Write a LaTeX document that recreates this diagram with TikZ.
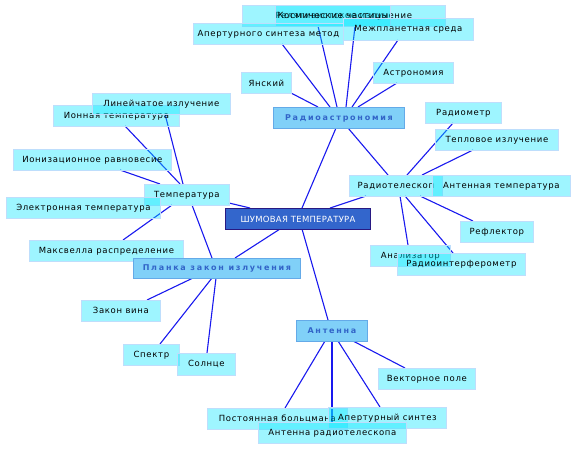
\documentclass[tikz,border=0pt]{standalone}
\usepackage{fontspec}
\setmainfont{DejaVu Sans}[LetterSpace=8]
\newfontfamily\hubfont{DejaVu Sans}[LetterSpace=22]
\newfontfamily\cenfont{DejaVu Sans}[LetterSpace=3]
\usetikzlibrary{calc,backgrounds}
\definecolor{leaffill}{RGB}{0,230,255}
\definecolor{leafdraw}{RGB}{190,222,252}
\definecolor{hubfill}{RGB}{128,208,248}
\definecolor{hubdraw}{RGB}{100,170,232}
\definecolor{hubtext}{RGB}{50,100,200}
\definecolor{cenfill}{RGB}{51,102,204}
\definecolor{cendraw}{RGB}{40,25,130}
\definecolor{edgecol}{RGB}{25,25,238}
\tikzset{
  box/.style={anchor=north west, inner sep=0pt, font=\fontsize{8.5}{9}\selectfont},
  leaf/.style={box, fill=leaffill, fill opacity=0.38, text opacity=1, draw=leafdraw, line width=0.8pt},
  hub/.style={box, fill=hubfill, draw=hubdraw, line width=0.9pt, text=hubtext, font=\fontsize{8}{9}\selectfont\hubfont\bfseries},
  cen/.style={box, fill=cenfill, draw=cendraw, line width=1pt, text=white, font=\fontsize{8.5}{9}\selectfont\cenfont},
  edge/.style={draw=edgecol, line width=1.1pt}
}
\newcommand{\bx}[6]{\node[#1, minimum width=#4pt, minimum height=#5pt] (#2) at (#3) {#6};}
\begin{document}
\begin{tikzpicture}[x=1pt,y=-1pt]
\useasboundingbox (0,0) rectangle (576,450);
% leaves
\bx{leaf}{rel}{242,5}{203}{21}{Релятивистское излучение}
\bx{leaf}{kos}{275,5}{115}{21}{Космические частицы}
\bx{leaf}{mez}{343,18}{130}{22}{Межпланетная среда}
\bx{leaf}{apm}{193,23}{150}{21}{Апертурного синтеза метод}
\bx{leaf}{yan}{241,72}{50}{21}{Янский}
\bx{leaf}{ast}{373,62}{80}{21}{Астрономия}
\bx{leaf}{rad}{425,102}{76}{21}{Радиометр}
\bx{leaf}{tep}{435,129}{123}{21}{Тепловое излучение}
\bx{leaf}{rtel}{349,175}{93}{21}{Радиотелескоп}
\bx{leaf}{antt}{432,175}{138}{21}{Антенная температура}
\bx{leaf}{refl}{460,221}{73}{21}{Рефлектор}
\bx{leaf}{anl}{370,245}{80}{21}{Анализатор}
\bx{leaf}{rif}{397,253}{128}{22}{Радиоинтерферометр}
\bx{leaf}{ion}{53,105}{126}{21}{Ионная температура}
\bx{leaf}{lin}{92,93}{138}{21}{Линейчатое излучение}
\bx{leaf}{ionr}{13,149}{158}{21}{Ионизационное равновесие}
\bx{leaf}{temp}{144,184}{85}{21}{Температура}
\bx{leaf}{el}{6,197}{154}{21}{Электронная температура}
\bx{leaf}{maxw}{29,240}{154}{21}{Максвелла распределение}
\bx{leaf}{vin}{81,300}{79}{21}{Закон вина}
\bx{leaf}{spec}{123,344}{56}{21}{Спектр}
\bx{leaf}{sol}{177,353}{58}{22}{Солнце}
\bx{leaf}{vec}{378,368}{97}{21}{Векторное поле}
\bx{leaf}{bol}{207,408}{140}{21}{Постоянная больцмана}
\bx{leaf}{aps}{328,407}{118}{21}{Апертурный синтез}
\bx{leaf}{art}{258,422}{148}{21}{Антенна радиотелескопа}
% hubs
\bx{hub}{radast}{273,107}{131}{21}{Радиоастрономия}
\bx{hub}{plank}{133,258}{167}{20}{Планка закон излучения}
\bx{hub}{antenna}{296,320}{71}{21}{Антенна}
\bx{cen}{center}{225,208}{145}{21}{ШУМОВАЯ ТЕМПЕРАТУРА}
\begin{scope}[on background layer]
% center
\draw[edge] ($(center.north west)+(77,0)$) -- ($(radast.north west)+(63,21)$);
\draw[edge] ($(center.north west)+(105,0)$) -- ($(rtel.north west)+(17,21)$);
\draw[edge] ($(center.north west)+(25,0)$) -- ($(temp.north west)+(85,19)$);
\draw[edge] ($(center.north west)+(55,21)$) -- ($(plank.north west)+(102,0)$);
\draw[edge] ($(center.north west)+(77,21)$) -- ($(antenna.north west)+(32,0)$);
% radioastronomy
\draw[edge] ($(yan.north west)+(50,21)$) -- ($(radast.north west)+(45,0)$);
\draw[edge] ($(apm.north west)+(89,21)$) -- ($(radast.north west)+(57,0)$);
\draw[edge] ($(kos.north west)+(43,21)$) -- ($(radast.north west)+(64,0)$);
\draw[edge] ($(rel.north west)+(113,21)$) -- ($(radast.north west)+(73,0)$);
\draw[edge] ($(mez.north west)+(55,22)$) -- ($(radast.north west)+(79,0)$);
\draw[edge] ($(ast.north west)+(24,21)$) -- ($(radast.north west)+(85,0)$);
\draw[edge] ($(radast.north west)+(75,21)$) -- ($(rtel.north west)+(39,0)$);
% radiotelescope
\draw[edge] ($(rad.north west)+(28,21)$) -- ($(rtel.north west)+(58,0)$);
\draw[edge] ($(tep.north west)+(38,21)$) -- ($(rtel.north west)+(73,0)$);
\draw[edge] ($(anl.north west)+(38,0)$) -- ($(rtel.north west)+(51,21)$);
\draw[edge] ($(rif.north west)+(56,0)$) -- ($(rtel.north west)+(56,21)$);
\draw[edge] ($(refl.north west)+(13,0)$) -- ($(rtel.north west)+(71,21)$);
% temperature
\draw[edge] ($(lin.north west)+(73,21)$) -- ($(temp.north west)+(39,0)$);
\draw[edge] ($(ion.north west)+(72,21)$) -- ($(temp.north west)+(36,0)$);
\draw[edge] ($(ionr.north west)+(107,21)$) -- ($(temp.north west)+(16,0)$);
\draw[edge] ($(maxw.north west)+(94,0)$) -- ($(temp.north west)+(28,21)$);
\draw[edge] ($(temp.north west)+(48,21)$) -- ($(plank.north west)+(79,0)$);
% planck
\draw[edge] ($(vin.north west)+(66,0)$) -- ($(plank.north west)+(60,20)$);
\draw[edge] ($(spec.north west)+(37,0)$) -- ($(plank.north west)+(79,20)$);
\draw[edge] ($(sol.north west)+(30,0)$) -- ($(plank.north west)+(83,20)$);
% antenna
\draw[edge] ($(bol.north west)+(78,0)$) -- ($(antenna.north west)+(29,21)$);
\draw[edge] ($(art.north west)+(74,0)$) -- ($(antenna.north west)+(36,21)$);
\draw[edge] ($(aps.north west)+(52,0)$) -- ($(antenna.north west)+(42,21)$);
\draw[edge] ($(vec.north west)+(27,0)$) -- ($(antenna.north west)+(57,21)$);
\end{scope}
\end{tikzpicture}
\end{document}
